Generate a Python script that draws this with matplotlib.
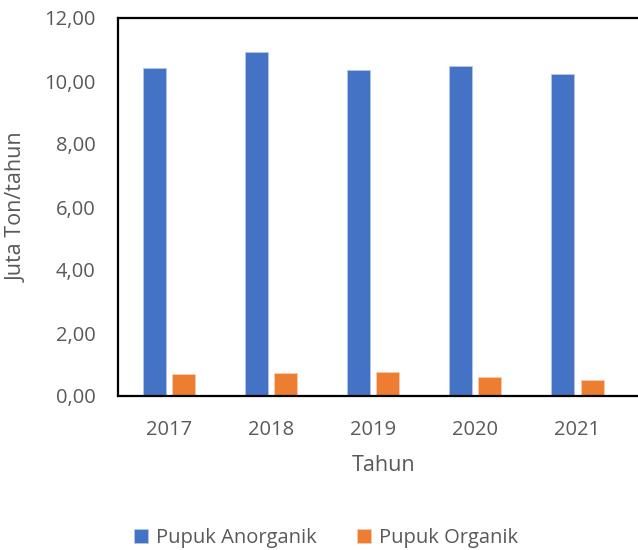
import numpy as np
import matplotlib.pyplot as plt

plt.rcParams['font.family'] = ['Open Sans', 'DejaVu Sans']

years = ['2017', '2018', '2019', '2020', '2021']
anorganik = [10.40, 10.92, 10.34, 10.47, 10.21]
organik = [0.69, 0.73, 0.76, 0.61, 0.51]

grey = '#595959'
x = np.arange(len(years))
width = 0.225

fig = plt.figure(figsize=(6.38, 5.5), dpi=100)
ax = fig.add_axes([118 / 638, 1 - 396 / 550, 1 - 118 / 638, (396 - 18) / 550])

ax.bar(x - 0.143, anorganik, width, color='#4472C4', edgecolor='#b4c7e7',
       linewidth=0.6, label='Pupuk Anorganik')
ax.bar(x + 0.143, organik, width, color='#ED7D31', edgecolor='#f8cbad',
       linewidth=0.6, label='Pupuk Organik')

ax.set_xlim(-0.5, 4.593)
ax.set_ylim(0, 12)
ax.set_yticks(np.arange(0, 13, 2))
ax.set_yticklabels(['{:.2f}'.format(v).replace('.', ',') for v in np.arange(0, 13, 2)])
ax.set_xticks(x)
ax.set_xticklabels(years)
ax.tick_params(axis='both', length=0, labelsize=14.5, colors=grey)
ax.tick_params(axis='y', pad=16)
ax.tick_params(axis='x', pad=17)

for s in ['left', 'top', 'bottom']:
    ax.spines[s].set_color('black')
    ax.spines[s].set_linewidth(1.6)
ax.spines['right'].set_visible(False)

ax.set_ylabel('Juta Ton/tahun', fontsize=15.5, color=grey)
ax.yaxis.set_label_coords(-(118 - 28) / 520, 0.5)
ax.set_xlabel('Tahun', fontsize=15.5, color=grey)
ax.xaxis.set_label_coords((384 - 118) / 520, -(455 - 396) / 378)

ax.legend(loc='center', bbox_to_anchor=(326 / 638, 1 - 538 / 550),
          bbox_transform=fig.transFigure, ncol=2, frameon=False,
          fontsize=14.5, labelcolor=grey, handlelength=0.7, handleheight=0.7,
          handletextpad=0.4, columnspacing=2.0)

fig.savefig('out.png', dpi=100)
